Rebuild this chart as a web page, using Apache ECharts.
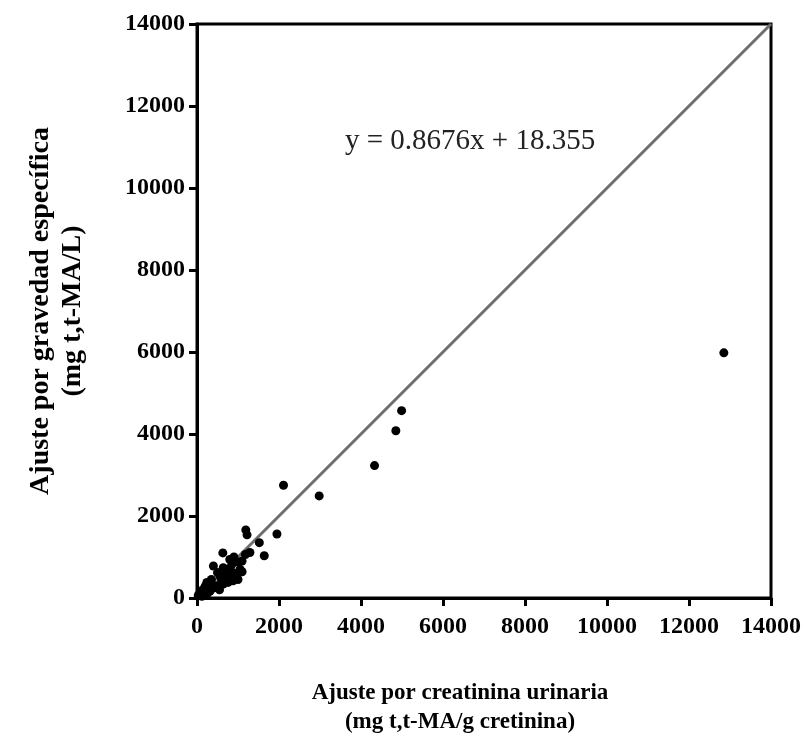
<!DOCTYPE html>
<html>
<head>
<meta charset="utf-8">
<script src="https://cdn.jsdelivr.net/npm/echarts@6/dist/echarts.min.js"></script>
<style>html,body{margin:0;padding:0;background:#fff}#c{width:806px;height:740px}</style>
</head>
<body>
<div id="c"></div>
<script>
// Data (x: ajuste por creatinina, y: ajuste por gravedad específica)
var xVals = [12850,4990,4850,4330,2980,2110,1190,1220,1950,1520,1640,630,1290,1180,800,900,1000,1050,1100,400,640,720,810,890,560,805,880,640,480,240,150,320,70,200,30,90,350,420,700,950,1000,500,260,550,760,300,120,600,850,1100];
var yVals = [5980,4570,4080,3230,2490,2750,1660,1540,1560,1350,1030,1100,1110,1060,940,1000,880,700,640,780,740,650,730,610,540,460,420,340,300,380,210,170,130,290,60,100,450,250,500,560,450,620,120,200,380,330,40,430,820,900];
var lineX = [0, 14000];
var lineY = [0, 14000];
var axisTicks = [0,2000,4000,6000,8000,10000,12000,14000];
var equation = 'y = 0.8676x + 18.355';
var xTitle = ['Ajuste por creatinina urinaria', '(mg t,t-MA/g cretinina)'];
var yTitle = 'Ajuste por gravedad específica\n(mg t,t-MA/L)';

var pts = xVals.map(function(x,i){return [x,yVals[i]];});
var linePts = lineX.map(function(x,i){return [x,lineY[i]];});
var serif = '"Liberation Serif","DejaVu Serif",serif';
var chart = echarts.init(document.getElementById('c'));
var axisCommon = {
  type:'value', min:axisTicks[0], max:axisTicks[axisTicks.length-1], interval:axisTicks[1]-axisTicks[0],
  axisLine:{show:true, onZero:false, lineStyle:{color:'#000', width:3}},
  axisTick:{show:true, length:8, lineStyle:{color:'#000', width:3}},
  splitLine:{show:false},
  nameLocation:'middle',
  axisLabel:{fontFamily:serif, fontWeight:'bold', fontSize:24, color:'#000', formatter:function(v){return String(v);}}
};
chart.setOption({
  animation:false,
  grid:{left:197, right:35, top:24, bottom:142, show:true, borderColor:'#000', borderWidth:3},
  xAxis:Object.assign({}, axisCommon, {
    axisLabel:Object.assign({}, axisCommon.axisLabel, {margin:17})}),
  yAxis:Object.assign({}, axisCommon, {name:yTitle, nameGap:108,
    nameTextStyle:{fontFamily:serif, fontWeight:'bold', fontSize:28, color:'#000', lineHeight:32},
    axisLabel:Object.assign({}, axisCommon.axisLabel, {margin:12})}),
  series:[
    {type:'line', data:linePts, symbol:'none', lineStyle:{color:'#6e6e6e', width:3}, z:2},
    {type:'scatter', data:pts, symbol:'circle', symbolSize:9, itemStyle:{color:'#000', opacity:1}, z:3}
  ],
  graphic:[
    {type:'text', left:345, top:127, style:{text:equation, font:'29px '+serif, fill:'#222'}},
    {type:'text', x:460, y:693, style:{text:xTitle[0], font:'bold 23px '+serif, fill:'#000', align:'center', verticalAlign:'middle'}},
    {type:'text', x:460, y:722, style:{text:xTitle[1], font:'bold 23px '+serif, fill:'#000', align:'center', verticalAlign:'middle'}}
  ]
});
</script>
</body>
</html>
